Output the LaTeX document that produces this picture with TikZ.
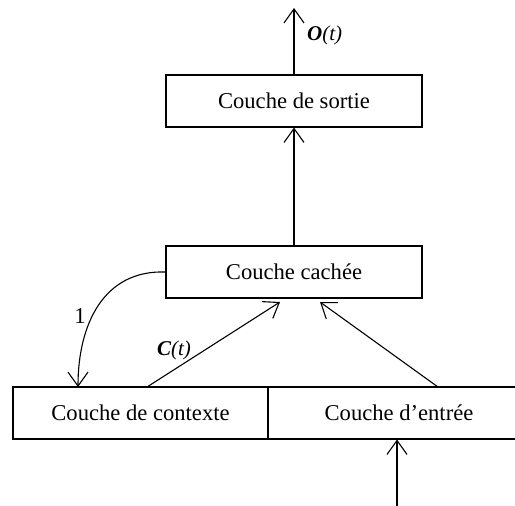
\documentclass[tikz,border=0pt]{standalone}
\usepackage{fontspec}
\setmainfont{Liberation Serif}
\usetikzlibrary{arrows.meta}
\begin{document}
\begin{tikzpicture}[x=1pt,y=-1pt,
  box/.style={draw,line width=1.1pt,minimum width=256pt,minimum height=52pt,inner sep=0pt,
    font=\fontsize{22.6}{27}\selectfont},
  conn/.style={line width=1.1pt,-{Straight Barb[length=14pt,width=20pt,line width=1.1pt]}},
  lbl/.style={font=\fontsize{21}{25}\selectfont\itshape,inner sep=0pt}]
\useasboundingbox (0,0) rectangle (515,506);
\node[box] (out) at (294,101) {Couche de sortie};
\node[box] (hid) at (294,272) {Couche cach\'ee};
\node[box,minimum width=255pt] (ctx) at (140.5,413) {Couche de contexte};
\node[box,minimum width=262pt] (inp) at (399,413) {Couche d'entr\'ee};
\coordinate (top) at (294,8);
\coordinate (bot) at (397,506);
\coordinate (c1) at (147,387);
\coordinate (c2) at (280,302);
\coordinate (i1) at (438,387);
\coordinate (i2) at (320,302);
\coordinate (fb) at (78,387);
\draw[conn] (out.north) -- (top);
\draw[conn] (hid.north) -- (out.south);
\draw[conn] (c1) -- (c2);
\draw[conn] (i1) -- (i2);
\draw[conn] (bot) -- (397,439.5);
\draw[conn] (hid.west) to[out=178,in=90,looseness=1.1] (fb);
\node[lbl,anchor=west] (olab) at (307,35) {\textbf{O}(t)};
\node[lbl] (clab) at (174,350) {\textbf{C}(t)};
\node[font=\fontsize{22.6}{27}\selectfont] (one) at (80,316) {1};
\end{tikzpicture}
\end{document}
